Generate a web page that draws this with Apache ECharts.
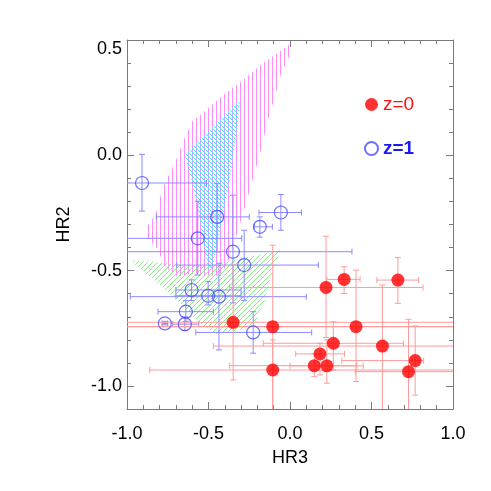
<!DOCTYPE html>
<html>
<head>
<meta charset="utf-8">
<script src="https://cdn.jsdelivr.net/npm/echarts@6/dist/echarts.min.js"></script>
<style>
html, body { margin: 0; background: #fff; }
#chart { width: 491px; height: 491px; }
</style>
</head>
<body>
<div id="chart"></div>
<script>
// z=0 sources (filled red)
const z0X   = [0.221, 0.332, 0.662, -0.349, -0.106, 0.405, 0.266, 0.567, 0.184, 0.768, 0.149, 0.226, -0.106, 0.727]
const z0Y   = [-0.573, -0.538, -0.541, -0.724, -0.743, -0.743, -0.815, -0.827, -0.861, -0.890, -0.912, -0.913, -0.931, -0.938]
const z0XLo = [-0.37, 0.226, 0.533, -1.2, -1.2, -1.2, -0.164, -0.47, 0.035, 0.318, -0.37, 0.0, -0.86, 0.4]
const z0XHi = [0.816, 0.43, 0.789, 1.2, 1.2, 1.2, 0.696, 1.2, 0.334, 0.82, 0.41, 0.45, 1.2, 1.2]
const z0YLo = [-0.79, -0.599, -0.642, -0.974, -1.2, -0.981, -0.931, -1.2, -0.952, -1.04, -0.96, -0.988, -1.2, -1.2]
const z0YHi = [-0.351, -0.483, -0.443, -0.476, -0.39, -0.498, -0.722, -0.563, -0.815, -0.74, -0.86, -0.80, -0.8, -0.711]

// z=1 sources (open blue)
const z1X   = [-0.908, -0.447, -0.056, -0.185, -0.566, -0.350, -0.281, -0.604, -0.502, -0.436, -0.639, -0.768, -0.645, -0.226]
const z1Y   = [-0.120, -0.267, -0.248, -0.310, -0.360, -0.418, -0.476, -0.584, -0.609, -0.613, -0.678, -0.729, -0.732, -0.768]
const z1XLo = [-1.2, -0.82, -0.19, -0.218, -1.2, -1.2, -0.695, -0.70, -0.70, -0.98, -0.81, -0.785, -0.72, -0.578]
const z1XHi = [-0.512, -0.25, 0.07, -0.108, -0.296, 0.38, 0.174, -0.30, -0.30, 0.10, -0.47, -0.75, -0.56, 0.133]
const z1YLo = [-0.242, -0.419, -0.325, -0.355, -0.519, -0.64, -0.63, -0.63, -0.649, -0.844, -0.72, -0.735, -0.76, -0.858]
const z1YHi = [0.004, -0.123, -0.170, -0.267, -0.199, -0.173, -0.325, -0.54, -0.548, -0.468, -0.63, -0.72, -0.70, -0.678]

// hatched regions
const magentaRegion = [
  [-0.006, 0.481], [-0.003, 0.433], [-0.055, 0.355], [-0.080, 0.290], [-0.105, 0.225],
  [-0.136, 0.152], [-0.160, 0.078], [-0.184, 0.009], [-0.209, -0.056], [-0.277, -0.225],
  [-0.369, -0.442], [-0.424, -0.524], [-0.615, -0.515], [-0.688, -0.528], [-0.768, -0.481],
  [-0.817, -0.403], [-0.885, -0.351], [-0.885, -0.316], [-0.848, -0.281], [-0.817, -0.238],
  [-0.781, -0.143], [-0.695, -0.013], [-0.645, 0.078], [-0.596, 0.152], [-0.553, 0.173],
  [-0.504, 0.203], [-0.449, 0.238], [-0.400, 0.268], [-0.350, 0.294], [-0.289, 0.325],
  [-0.234, 0.359], [-0.160, 0.403], [-0.080, 0.442]
]
const cyanRegion = [
  [-0.307, 0.238], [-0.320, 0.139], [-0.350, -0.009], [-0.381, -0.152], [-0.412, -0.268],
  [-0.449, -0.398], [-0.479, -0.498], [-0.504, -0.489], [-0.535, -0.368], [-0.565, -0.225],
  [-0.615, -0.078], [-0.645, 0.000]
]
const greenRegion = [
  [-0.983, -0.455], [-0.522, -0.481], [-0.055, -0.411], [-0.111, -0.511], [-0.154, -0.628],
  [-0.215, -0.727], [-0.320, -0.762], [-0.461, -0.775], [-0.553, -0.727], [-0.676, -0.641],
  [-0.811, -0.554]
]

const xTickValues = [-1.0, -0.5, 0.0, 0.5, 1.0]
const xTickLabels = ['-1.0', '-0.5', '0.0', '0.5', '1.0']
const yTickValues = [-1.0, -0.5, 0.0, 0.5]
const yTickLabels = ['-1.0', '-0.5', '0.0', '0.5']
const yMinorValues = [-1.1, -1.0, -0.9, -0.8, -0.7, -0.6, -0.5, -0.4, -0.3, -0.2, -0.1, 0.0, 0.1, 0.2, 0.3, 0.4, 0.5]

const FONT = 'Liberation Sans, Arial, Helvetica, sans-serif'
const AXIS_COLOR = '#7a7a7a'

function hatch(color, kind, step) {
  const c = document.createElement('canvas')
  c.width = step
  c.height = step
  const g = c.getContext('2d')
  g.strokeStyle = color
  g.fillStyle = color
  g.lineWidth = 1
  if (kind === 'v') {
    g.fillRect(0, 0, 1, step)
  } else {
    g.beginPath()
    if (kind === '/') {
      g.moveTo(0, step); g.lineTo(step, 0)
      g.moveTo(-1, 1); g.lineTo(1, -1)
      g.moveTo(step - 1, step + 1); g.lineTo(step + 1, step - 1)
    } else {
      g.moveTo(0, 0); g.lineTo(step, step)
      g.moveTo(-1, step - 1); g.lineTo(1, step + 1)
      g.moveTo(step - 1, -1); g.lineTo(step + 1, 1)
    }
    g.stroke()
  }
  return { image: c, repeat: 'repeat' }
}

function regionSeries(points, fill) {
  return {
    type: 'custom',
    data: points,
    silent: true,
    clip: true,
    z: 1,
    renderItem: (params, api) => {
      if (params.dataIndex !== 0) return
      return {
        type: 'polygon',
        shape: { points: points.map(p => api.coord(p)) },
        style: { fill: fill, stroke: null }
      }
    }
  }
}

function errorSeries(xs, ys, xlo, xhi, ylo, yhi, color) {
  const data = xs.map((x, i) => [x, ys[i], xlo[i], xhi[i], ylo[i], yhi[i]])
  const cap = 3
  return {
    type: 'custom',
    data,
    silent: true,
    clip: true,
    z: 2,
    encode: { x: 0, y: 1 },
    renderItem: (params, api) => {
      const x = api.value(0)
      const y = api.value(1)
      const a = api.coord([api.value(2), y])
      const b = api.coord([api.value(3), y])
      const c = api.coord([x, api.value(4)])
      const d = api.coord([x, api.value(5)])
      const style = { stroke: color, lineWidth: 1 }
      const seg = (x1, y1, x2, y2) => ({ type: 'line', shape: { x1, y1, x2, y2 }, style })
      return {
        type: 'group',
        children: [
          seg(a[0], a[1], b[0], b[1]),
          seg(a[0], a[1] - cap, a[0], a[1] + cap),
          seg(b[0], b[1] - cap, b[0], b[1] + cap),
          seg(c[0], c[1], d[0], d[1]),
          seg(c[0] - cap, c[1], c[0] + cap, c[1]),
          seg(d[0] - cap, d[1], d[0] + cap, d[1])
        ]
      }
    }
  }
}

const labelStyle = { fontFamily: FONT, fontSize: 18, color: '#000' }

function xAxisBase(pos, showLabel) {
  return {
    type: 'value',
    position: pos,
    min: -1,
    max: 1,
    interval: 0.5,
    axisLine: { show: true, onZero: false, lineStyle: { color: AXIS_COLOR } },
    axisTick: { show: true, inside: true, length: 7, lineStyle: { color: AXIS_COLOR } },
    minorTick: { show: true, splitNumber: 5, length: 4, lineStyle: { color: AXIS_COLOR } },
    splitLine: { show: false },
    axisLabel: {
      show: showLabel,
      margin: 16,
      ...labelStyle,
      formatter: v => {
        const i = xTickValues.findIndex(t => Math.abs(t - v) < 1e-6)
        return i >= 0 ? xTickLabels[i] : ''
      }
    }
  }
}

function yAxisMajor(pos, showLabel) {
  return {
    type: 'value',
    position: pos,
    min: -1.1,
    max: 0.5,
    axisLine: { show: true, onZero: false, lineStyle: { color: AXIS_COLOR } },
    axisTick: { show: true, inside: true, length: 7, customValues: yTickValues, lineStyle: { color: AXIS_COLOR } },
    splitLine: { show: false },
    axisLabel: {
      show: showLabel,
      margin: 5,
      customValues: yTickValues,
      verticalAlignMaxLabel: 'top',
      ...labelStyle,
      formatter: v => {
        const i = yTickValues.findIndex(t => Math.abs(t - v) < 1e-6)
        return i >= 0 ? yTickLabels[i] : ''
      }
    }
  }
}

function yAxisMinor(pos) {
  return {
    type: 'value',
    position: pos,
    min: -1.1,
    max: 0.5,
    axisLine: { show: false, onZero: false },
    axisTick: { show: true, inside: true, length: 4, customValues: yMinorValues, lineStyle: { color: AXIS_COLOR } },
    splitLine: { show: false },
    axisLabel: { show: false }
  }
}

const chart = echarts.init(document.getElementById('chart'), null, { renderer: 'canvas' })

const xBottom = xAxisBase('bottom', true)
xBottom.name = 'HR3'
xBottom.nameLocation = 'middle'
xBottom.nameGap = 40
xBottom.nameTextStyle = { fontFamily: FONT, fontSize: 18, color: '#000' }

const yLeft = yAxisMajor('left', true)
yLeft.name = 'HR2'
yLeft.nameLocation = 'middle'
yLeft.nameGap = 54
yLeft.nameTextStyle = { fontFamily: FONT, fontSize: 18, color: '#000' }

chart.setOption({
  animation: false,
  backgroundColor: '#fff',
  grid: { left: 127, right: 38, top: 40, bottom: 82 },
  xAxis: [xBottom, xAxisBase('top', false)],
  yAxis: [yLeft, yAxisMinor('left'), yAxisMajor('right', false), yAxisMinor('right')],
  legend: {
    orient: 'vertical',
    left: 359,
    top: 90,
    itemWidth: 13,
    itemHeight: 13,
    itemGap: 25,
    itemTextGap: 6,
    selectedMode: false,
    icon: 'circle',
    textStyle: { fontFamily: FONT, fontSize: 19 },
    data: [
      { name: 'z=0', textStyle: { color: '#ff1010' } },
      { name: 'z=1', textStyle: { color: '#1a1aee', fontWeight: 'bold' } }
    ]
  },
  series: [
    regionSeries(magentaRegion, hatch('#ff8cff', 'v', 4)),
    regionSeries(cyanRegion, hatch('#4fdcff', '\\', 4)),
    regionSeries(greenRegion, hatch('#86ec86', '/', 5)),
    errorSeries(z1X, z1Y, z1XLo, z1XHi, z1YLo, z1YHi, '#8a8aff'),
    errorSeries(z0X, z0Y, z0XLo, z0XHi, z0YLo, z0YHi, '#ff9a9a'),
    {
      name: 'z=1',
      type: 'scatter',
      z: 3,
      symbol: 'circle',
      symbolSize: 13,
      data: z1X.map((x, i) => [x, z1Y[i]]),
      itemStyle: { color: 'rgba(0,0,0,0)', borderColor: '#4a4aff', borderWidth: 1.2 }
    },
    {
      name: 'z=0',
      type: 'scatter',
      z: 3,
      symbol: 'circle',
      symbolSize: 13,
      data: z0X.map((x, i) => [x, z0Y[i]]),
      itemStyle: { color: '#ff0000' }
    }
  ]
})
</script>
</body>
</html>
